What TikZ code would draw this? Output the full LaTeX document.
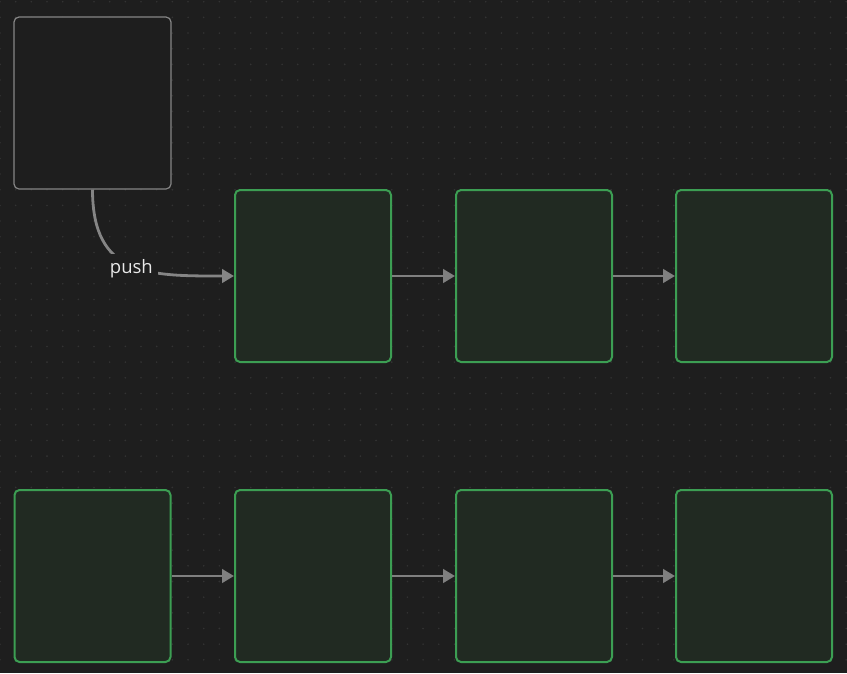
\documentclass[tikz,border=0pt]{standalone}
\usepackage{fontspec}
\newfontfamily\labelfont{Open Sans}
\usetikzlibrary{arrows.meta}
\definecolor{bg}{HTML}{1E1E1E}
\definecolor{griddot}{HTML}{333333}
\definecolor{greenfill}{HTML}{212A22}
\definecolor{greenline}{HTML}{3C9E53}
\definecolor{grayline}{HTML}{858585}
\definecolor{arrowgray}{HTML}{808080}
\definecolor{labeltext}{HTML}{E8E8E8}
\begin{document}
\begin{tikzpicture}[x=1pt,y=-1pt,
  greenbox/.style={draw=greenline, line width=2pt, fill=greenfill, rounded corners=5pt,
    minimum width=156pt, minimum height=172pt, inner sep=0pt},
  graybox/.style={draw=grayline, line width=1.2pt, fill=bg, rounded corners=5pt,
    minimum width=157pt, minimum height=172pt, inner sep=0pt},
  flow/.style={draw=arrowgray, line width=2.8pt, -{Triangle[length=12pt,width=13.5pt]}},
  pushlabel/.style={fill=bg, text=labeltext, inner sep=5pt, font=\labelfont\fontsize{18.5}{22}\selectfont}
]
\fill[bg] (0,0) rectangle (847,673);
\useasboundingbox (0,0) rectangle (847,673);
\foreach \i in {0,...,54}{
  \foreach \j in {0,...,42}{
    \fill[griddot] (\i*15.67, 1.7+\j*15.67) circle (0.9);
  }
}
\node[graybox] (src) at (92.5,103) {};
\node[greenbox] (a1) at (313,276) {};
\node[greenbox] (a2) at (534,276) {};
\node[greenbox] (a3) at (754,276) {};
\node[greenbox] (b0) at (92.5,576) {};
\node[greenbox] (b1) at (313,576) {};
\node[greenbox] (b2) at (534,576) {};
\node[greenbox] (b3) at (754,576) {};
\draw[flow] (a1.east) -- (a2.west);
\draw[flow] (a2.east) -- (a3.west);
\draw[flow] (b0.east) -- (b1.west);
\draw[flow] (b1.east) -- (b2.west);
\draw[flow] (b2.east) -- (b3.west);
\draw[flow, draw=grayline] (src.south) .. controls ([yshift=-87pt]src.south) and ([xshift=-85pt]a1.west) .. node[pushlabel, pos=0.5, yshift=-3pt] {push} (a1.west);
\end{tikzpicture}
\end{document}
